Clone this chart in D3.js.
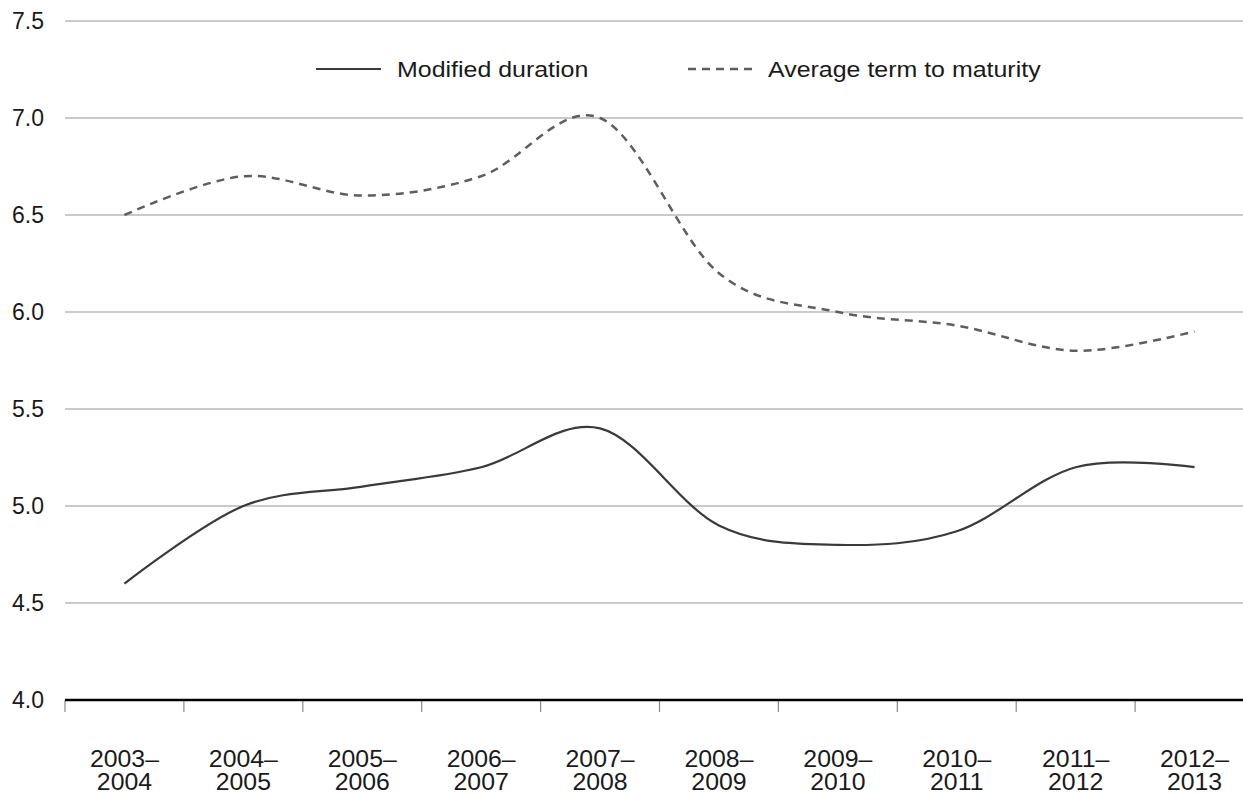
<!DOCTYPE html>
<html>
<head>
<meta charset="utf-8">
<script src="https://cdn.jsdelivr.net/npm/d3@7"></script>
<style>
  html, body { margin: 0; padding: 0; background: #fff; }
  svg { display: block; }
  text { font-family: "Liberation Sans", Arial, Helvetica, sans-serif; fill: #1a1a1a; }
</style>
</head>
<body>
<svg id="chart" width="1243" height="794"></svg>
<script>
const categories = [
  ["2003–", "2004"], ["2004–", "2005"], ["2005–", "2006"], ["2006–", "2007"], ["2007–", "2008"],
  ["2008–", "2009"], ["2009–", "2010"], ["2010–", "2011"], ["2011–", "2012"], ["2012–", "2013"]
];
const modifiedDuration = [4.6, 5.0, 5.1, 5.2, 5.4, 4.9, 4.8, 4.87, 5.2, 5.2];
const averageTerm = [6.5, 6.7, 6.6, 6.7, 7.0, 6.2, 6.0, 5.93, 5.8, 5.9];
const yTicks = [4.0, 4.5, 5.0, 5.5, 6.0, 6.5, 7.0, 7.5];
const seriesNames = ["Modified duration", "Average term to maturity"];

const svg = d3.select("#chart");
const plotLeft = 65, plotRight = 1254, plotTop = 21, plotBottom = 700;

const x = d3.scaleBand().domain(categories.map((d, i) => i)).range([plotLeft, plotRight]);
const y = d3.scaleLinear().domain([4.0, 7.5]).range([plotBottom, plotTop]);

// gridlines
svg.append("g").selectAll("line").data(yTicks.filter(t => t > 4.0)).join("line")
  .attr("x1", plotLeft).attr("x2", 1243)
  .attr("y1", d => y(d)).attr("y2", d => y(d))
  .attr("stroke", "#b9b9b9").attr("stroke-width", 1.5);

// y labels
svg.append("g").selectAll("text").data(yTicks).join("text")
  .attr("x", 44).attr("y", d => y(d) + 8)
  .attr("text-anchor", "end")
  .attr("font-size", 23)
  .text(d => d.toFixed(1));

// x axis ticks
const tickPos = categories.map((d, i) => x(i)).concat([plotRight]);
svg.append("g").selectAll("line").data(tickPos).join("line")
  .attr("x1", d => d).attr("x2", d => d)
  .attr("y1", plotBottom).attr("y2", plotBottom + 12)
  .attr("stroke", "#8a8a8a").attr("stroke-width", 1.2);

// baseline
svg.append("line")
  .attr("x1", plotLeft).attr("x2", 1243)
  .attr("y1", plotBottom).attr("y2", plotBottom)
  .attr("stroke", "#000").attr("stroke-width", 2.5);

// x labels (slightly wide face, as in the reference)
const xl = svg.append("g").selectAll("text").data(categories).join("text")
  .attr("text-anchor", "middle")
  .attr("font-size", 23)
  .attr("transform", (d, i) => `translate(${x(i) + x.bandwidth() / 2},767) scale(1.08,1)`);
xl.append("tspan").attr("x", 0).attr("dy", 0).text(d => d[0]);
xl.append("tspan").attr("x", 0).attr("dy", 23).text(d => d[1]);

// lines
const line = d3.line()
  .x((d, i) => x(i) + x.bandwidth() / 2)
  .y(d => y(d))
  .curve(d3.curveCardinal.tension(0));

svg.append("path").datum(averageTerm)
  .attr("d", line).attr("fill", "none")
  .attr("stroke", "#5e5e5e").attr("stroke-width", 2.5)
  .attr("stroke-dasharray", "8,6");

svg.append("path").datum(modifiedDuration)
  .attr("d", line).attr("fill", "none")
  .attr("stroke", "#3a3a3a").attr("stroke-width", 2.2);

// legend
const lg = svg.append("g");
lg.append("line").attr("x1", 316).attr("x2", 381).attr("y1", 69).attr("y2", 69)
  .attr("stroke", "#3a3a3a").attr("stroke-width", 2.2);
lg.append("text").attr("transform", "translate(397,77) scale(1.085,1)")
  .attr("font-size", 23).text(seriesNames[0]);
lg.append("line").attr("x1", 688).attr("x2", 752).attr("y1", 69).attr("y2", 69)
  .attr("stroke", "#5e5e5e").attr("stroke-width", 2.5).attr("stroke-dasharray", "8,6");
lg.append("text").attr("transform", "translate(768,77) scale(1.085,1)")
  .attr("font-size", 23).text(seriesNames[1]);
</script>
</body>
</html>
